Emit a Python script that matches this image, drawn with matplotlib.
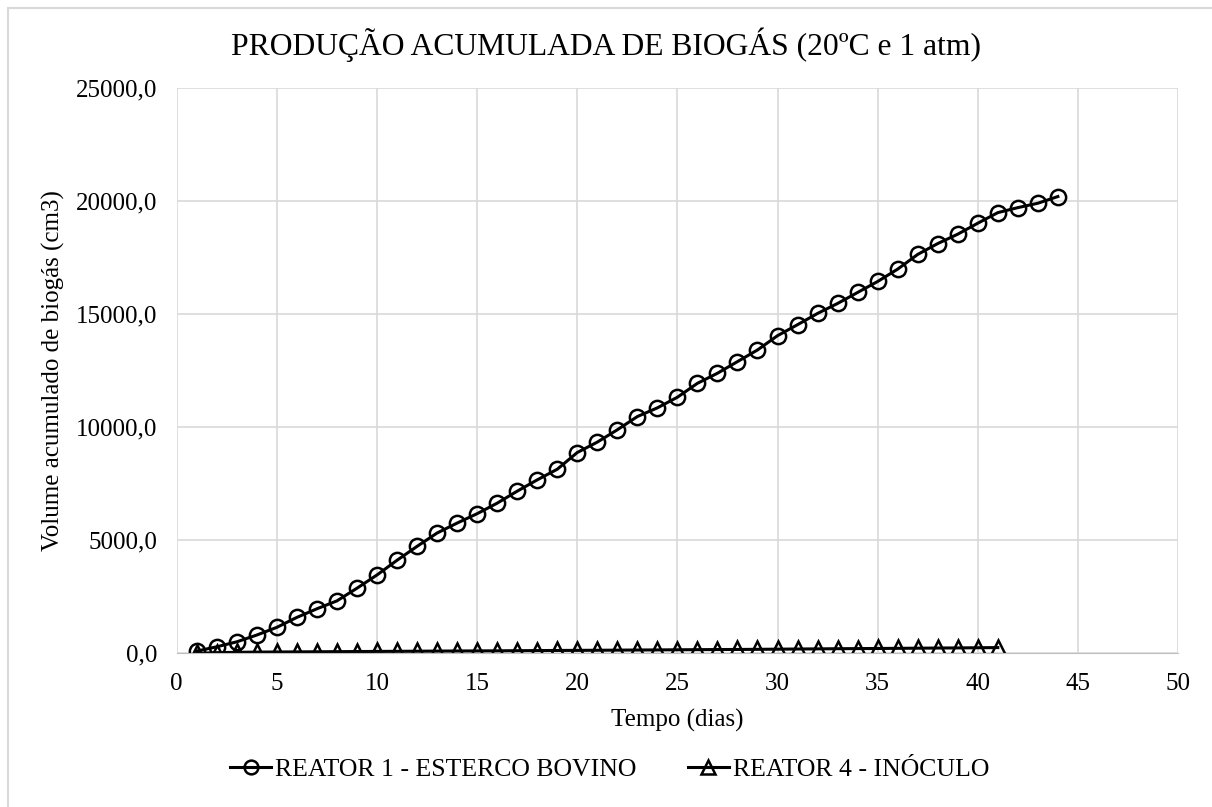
import numpy as np
import matplotlib
matplotlib.use('Agg')
import matplotlib.pyplot as plt
from matplotlib.patches import Rectangle
from matplotlib.ticker import FuncFormatter

# dias de medição
dias_r1 = list(range(1, 45))
dias_r4 = list(range(1, 42))

# volume acumulado (cm3)
reator1 = [100, 290, 510, 810, 1150, 1590, 1970, 2320, 2880, 3465,
           4115, 4730, 5320, 5760, 6175, 6640, 7170, 7670, 8140, 8880,
           9340, 9885, 10470, 10855, 11325, 11940, 12385, 12900, 13415, 14047,
           14533, 15031, 15472, 15958, 16443, 16990, 17640, 18120, 18535, 19020,
           19488, 19709, 19903, 20200]
reator4 = [0, 30, 45, 55, 60, 65, 70, 75, 80, 85,
           90, 95, 100, 105, 108, 112, 118, 122, 128, 132,
           137, 142, 148, 152, 158, 163, 168, 172, 178, 185,
           192, 198, 205, 210, 215, 222, 228, 235, 240, 248,
           255]

plt.rcParams['font.family'] = ['Liberation Serif', 'DejaVu Serif']

fig = plt.figure(figsize=(12.12, 8.07), dpi=100)
ax = fig.add_axes([0.1458, 0.1904, 0.8262, 0.7006])

ax.plot(dias_r1, reator1, color='black', lw=2.2, marker='o', ms=11,
        mfc='none', mec='black', mew=1.8, label='REATOR 1 - ESTERCO BOVINO')
ax.plot(dias_r4, reator4, color='black', lw=2.2, marker='^', ms=11,
        mfc='none', mec='black', mew=1.8, label='REATOR 4 - INÓCULO')

ax.set_xlim(0, 50)
ax.set_ylim(0, 25000)
ax.set_xticks(range(0, 51, 5))
ax.set_yticks(range(0, 25001, 5000))
ax.yaxis.set_major_formatter(FuncFormatter(lambda v, p: ('%.1f' % v).replace('.', ',')))
ax.grid(True, color='#d9d9d9', lw=1.2)
ax.set_axisbelow(True)
for s in ['top', 'right', 'left']:
    ax.spines[s].set_visible(False)
ax.spines['bottom'].set_color('#bfbfbf')
ax.tick_params(length=0, labelsize=18)
ax.tick_params(axis='x', pad=14)
ax.tick_params(axis='y', pad=14)

ax.set_xlabel('Tempo (dias)', fontsize=18, labelpad=10)
ax.set_ylabel('Volume acumulado de biogás (cm3)', fontsize=18, labelpad=8)
fig.text(0.5, 0.944, 'PRODUÇÃO ACUMULADA DE BIOGÁS (20ºC e 1 atm)',
         ha='center', va='center', fontsize=22.8)

ax.legend(loc='center', bbox_to_anchor=(0.503, 0.046), bbox_transform=fig.transFigure,
          ncol=2, frameon=False, fontsize=18.5, handlelength=1.6, handletextpad=0.15,
          columnspacing=2.0, markerscale=0.9)

fig.patches.append(Rectangle((8 / 1212, -0.05), 1.1, 1 - 8 / 807 + 0.05,
                             transform=fig.transFigure, fill=False,
                             edgecolor='#d9d9d9', lw=1.5))

plt.savefig('out.png', dpi=100)
